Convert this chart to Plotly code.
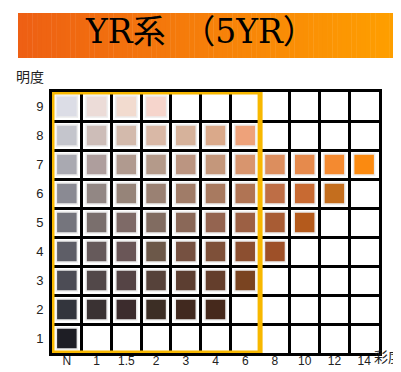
import plotly.graph_objects as go

# chroma columns and value rows
chroma_labels = ["N", "1", "1.5", "2", "3", "4", "6", "8", "10", "12", "14"]
value_levels = [1, 2, 3, 4, 5, 6, 7, 8, 9]

# colour chips per value (left to right, starting at N)
chips_v9 = ["#dcdde6", "#ecdcd8", "#f2dbcf", "#f6d5cc"]
chips_v8 = ["#c4c5cc", "#cdbdb8", "#d3baac", "#d9b8a6", "#d6b29b", "#daa98a", "#eea27a"]
chips_v7 = ["#a9a9b1", "#ae9e9d", "#b09a8f", "#b49a8a", "#bb9581", "#c4977b", "#d8956e",
            "#dc8e5e", "#e68a4c", "#f48a30", "#fb8a10"]
chips_v6 = ["#8a8a93", "#928784", "#968479", "#9a8173", "#a07c68", "#a87a60", "#b07454",
            "#be6e46", "#c86a32", "#c46e1e"]
chips_v5 = ["#75757d", "#7a6f6d", "#7e6a67", "#816c61", "#8a6858", "#946450", "#9c6044",
            "#a85c34", "#b45a1c"]
chips_v4 = ["#5e5e67", "#665a5b", "#6a5657", "#6c5849", "#765141", "#7e5039", "#8c4f30",
            "#9e5028"]
chips_v3 = ["#4c4c55", "#524849", "#554445", "#56423a", "#5c3e31", "#643e2c", "#7a4421"]
chips_v2 = ["#33353d", "#3a3233", "#3c2c2d", "#3c2e25", "#41291f", "#46291c"]
chips_v1 = ["#1e1e25"]

chips_by_value = {9: chips_v9, 8: chips_v8, 7: chips_v7, 6: chips_v6, 5: chips_v5,
                  4: chips_v4, 3: chips_v3, 2: chips_v2, 1: chips_v1}

title_text = "YR系　（5YR）"

xs, ys, cols = [], [], []
for v in value_levels:
    for i, c in enumerate(chips_by_value[v]):
        xs.append(i)
        ys.append(v)
        cols.append(c)

fig = go.Figure()
fig.add_trace(go.Scatter(
    x=xs, y=ys, mode="markers", showlegend=False, hoverinfo="skip",
    marker=dict(symbol="square", size=21, color=cols,
                line=dict(color="#ececec", width=1.5))
))

# banner gradient (decoration)
n_strips = 80
bx0, bx1 = 10 / 401, 391 / 401
c_left, c_right = (238, 96, 20), (255, 160, 0)
for k in range(n_strips):
    t = k / (n_strips - 1)
    r = int(c_left[0] + (c_right[0] - c_left[0]) * t)
    g = int(c_left[1] + (c_right[1] - c_left[1]) * t)
    b = int(c_left[2] + (c_right[2] - c_left[2]) * t)
    x0 = bx0 + (bx1 - bx0) * k / n_strips
    x1 = bx0 + (bx1 - bx0) * (k + 1) / n_strips + 0.001
    fig.add_shape(type="rect", xref="paper", yref="paper", x0=x0, x1=min(x1, bx1),
                  y0=1 - 50 / 372, y1=1 - 5 / 372, line_width=0,
                  fillcolor=f"rgb({r},{g},{b})", layer="below")

# yellow frame round N..6
fig.add_shape(type="rect", xref="x", yref="y", x0=-0.5, x1=6.5, y0=0.5, y1=9.5,
              line=dict(color="#f8b800", width=5), layer="above")

fig.add_annotation(text=title_text, xref="paper", yref="paper", x=192 / 401, y=1 - 24 / 372,
                   showarrow=False, xanchor="center", yanchor="middle",
                   font=dict(family="DejaVu Serif, Noto Sans CJK JP", size=33, color="black"))
fig.add_annotation(text="明度", xref="paper", yref="paper", x=6 / 401, y=1 - 68 / 372,
                   showarrow=False, xanchor="left", yanchor="middle", width=32, align="left",
                   font=dict(family="Noto Sans CJK JP", size=14, color="#222"))
fig.add_annotation(text="彩度", xref="paper", yref="paper", x=364 / 401, y=1 - 348 / 372,
                   showarrow=False, xanchor="left", yanchor="middle", width=30, align="left",
                   font=dict(family="Noto Sans CJK JP", size=14, color="#222"))

fig.update_xaxes(domain=[44 / 401, 371 / 401], range=[-0.5, 10.5],
                 tickmode="array", tickvals=list(range(len(chroma_labels))), ticktext=chroma_labels,
                 showgrid=False, zeroline=False, showline=True, mirror=True,
                 linecolor="black", linewidth=3, ticks="", ticklabelstandoff=-5,
                 minor=dict(tickmode="array", tickvals=[i + 0.5 for i in range(10)],
                            showgrid=True, gridcolor="black", gridwidth=3),
                 tickfont=dict(family="Liberation Sans", size=12, color="#222"), fixedrange=True)
fig.update_yaxes(domain=[(372 - 345) / 372, (372 - 84) / 372], range=[0.5, 9.5],
                 tickmode="array", tickvals=value_levels, ticktext=[str(v) for v in value_levels],
                 showgrid=False, zeroline=False, showline=True, mirror=True,
                 linecolor="black", linewidth=3, ticks="", ticklabelstandoff=3,
                 minor=dict(tickmode="array", tickvals=[v + 0.5 for v in value_levels[:-1]],
                            showgrid=True, gridcolor="black", gridwidth=3),
                 tickfont=dict(family="Liberation Sans", size=13, color="#222"), fixedrange=True)

fig.update_layout(width=401, height=372, margin=dict(l=0, r=0, t=0, b=0),
                  plot_bgcolor="white", paper_bgcolor="white")

fig.write_html("out.html")
